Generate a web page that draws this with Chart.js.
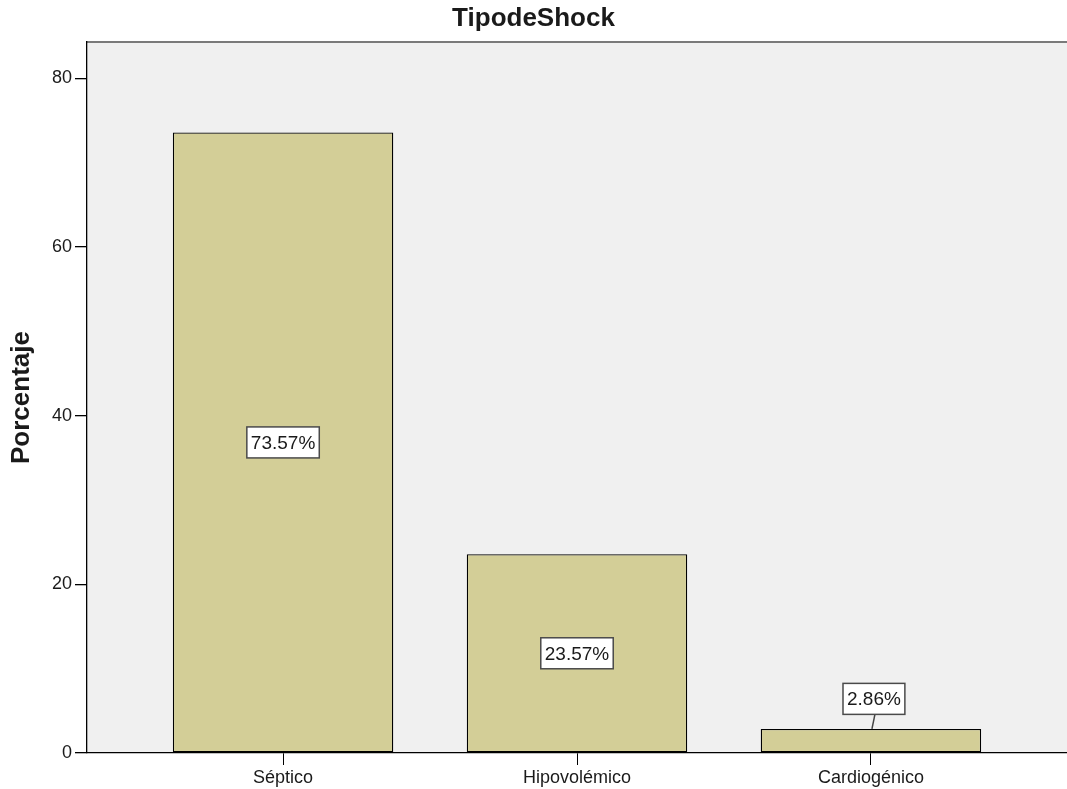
<!DOCTYPE html>
<html>
<head>
<meta charset="utf-8">
<title>TipodeShock</title>
<script src="https://cdn.jsdelivr.net/npm/chart.js@4.4.1/dist/chart.umd.min.js"></script>
<style>
  html, body { margin: 0; padding: 0; background: #fff; }
  #wrap { width: 1067px; height: 789px; }
</style>
</head>
<body>
<div id="wrap"><canvas id="shockChart"></canvas></div>
<script>
'use strict';

// ── DATA ──
const categories = ['Séptico', 'Hipovolémico', 'Cardiogénico'];
const percentages = [73.57, 23.57, 2.86];
const yTicks = [0, 20, 40, 60, 80];

const FONT = "'Liberation Sans', Arial, sans-serif";
const TEXT = '#1a1a1a';

// ── PLOT BACKGROUND + TOP FRAME ──
const plotBg = {
  id: 'plotBg',
  beforeDraw(chart) {
    const { ctx, chartArea: a } = chart;
    ctx.save();
    ctx.fillStyle = '#f0f0f0';
    ctx.fillRect(a.left, a.top, a.right - a.left, a.bottom - a.top);
    ctx.strokeStyle = '#7a7a7a';
    ctx.lineWidth = 2;
    ctx.beginPath();
    ctx.moveTo(a.left, a.top);
    ctx.lineTo(a.right, a.top);
    ctx.stroke();
    ctx.restore();
  }
};

// ── VALUE LABEL BOXES ──
const valueBoxes = {
  id: 'valueBoxes',
  afterDatasetsDraw(chart) {
    const { ctx } = chart;
    const meta = chart.getDatasetMeta(0);
    ctx.save();
    ctx.font = `19px ${FONT}`;
    ctx.textAlign = 'center';
    ctx.textBaseline = 'middle';
    meta.data.forEach((bar, i) => {
      const txt = percentages[i].toFixed(2) + '%';
      const w = ctx.measureText(txt).width + 8;
      const h = 31;
      let cy = (bar.y + bar.base) / 2;
      let cx = bar.x;
      let leader = false;
      // small bars get the box above, with a short leader line
      if (bar.base - bar.y < h + 6) { cy = bar.y - 30; cx = bar.x + 3; leader = true; }
      if (leader) {
        ctx.strokeStyle = '#444';
        ctx.lineWidth = 1.5;
        ctx.beginPath();
        ctx.moveTo(cx + 1, cy + h / 2);
        ctx.lineTo(bar.x + 1, bar.y);
        ctx.stroke();
      }
      ctx.fillStyle = '#fff';
      ctx.fillRect(cx - w / 2, cy - h / 2, w, h);
      ctx.strokeStyle = '#4a4a4a';
      ctx.lineWidth = 1.5;
      ctx.strokeRect(cx - w / 2, cy - h / 2, w, h);
      ctx.fillStyle = TEXT;
      ctx.fillText(txt, cx, cy + 1);
    });
    ctx.restore();
  }
};

new Chart(document.getElementById('shockChart'), {
  type: 'bar',
  data: {
    datasets: [{
      label: 'Porcentaje',
      data: percentages.map((v, i) => ({ x: i, y: v })),
      backgroundColor: '#d3ce97',
      borderColor: '#000',
      borderWidth: 1.3,
      borderSkipped: false,
      barPercentage: 0.75,
      categoryPercentage: 1
    }]
  },
  options: {
    responsive: true,
    maintainAspectRatio: false,
    animation: false,
    layout: { padding: 0 },
    plugins: {
      legend: { display: false },
      tooltip: { enabled: false },
      title: {
        display: true,
        text: 'TipodeShock',
        color: TEXT,
        font: { family: FONT, size: 26, weight: 'bold', lineHeight: 1.2 },
        padding: { top: 3.5, bottom: 7.3 }
      }
    },
    scales: {
      x: {
        type: 'linear',
        offset: false,
        min: -0.667,
        max: 2.667,
        afterBuildTicks: s => { s.ticks = categories.map((_, i) => ({ value: i })); },
        afterFit: s => { s.height = 36; },
        ticks: {
          color: TEXT,
          padding: 2,
          font: { family: FONT, size: 18 },
          callback: v => categories[v] ?? ''
        },
        grid: { offset: false, drawOnChartArea: false, drawTicks: true, tickLength: 12, color: '#000' },
        border: { color: '#000', width: 1.3 }
      },
      y: {
        min: 0,
        max: 84.3,
        afterBuildTicks: s => { s.ticks = yTicks.map(v => ({ value: v })); },
        afterFit: s => { s.width = 87; },
        ticks: {
          color: TEXT,
          padding: 3,
          font: { family: FONT, size: 18 }
        },
        grid: { drawOnChartArea: false, drawTicks: true, tickLength: 12, color: '#000', lineWidth: 1.3 },
        border: { color: '#000', width: 1.3 },
        title: {
          display: true,
          text: 'Porcentaje',
          color: TEXT,
          font: { family: FONT, size: 26, weight: 'bold', lineHeight: 1.2 },
          padding: { top: 6, bottom: 0 }
        }
      }
    }
  },
  plugins: [plotBg, valueBoxes]
});
</script>
</body>
</html>
